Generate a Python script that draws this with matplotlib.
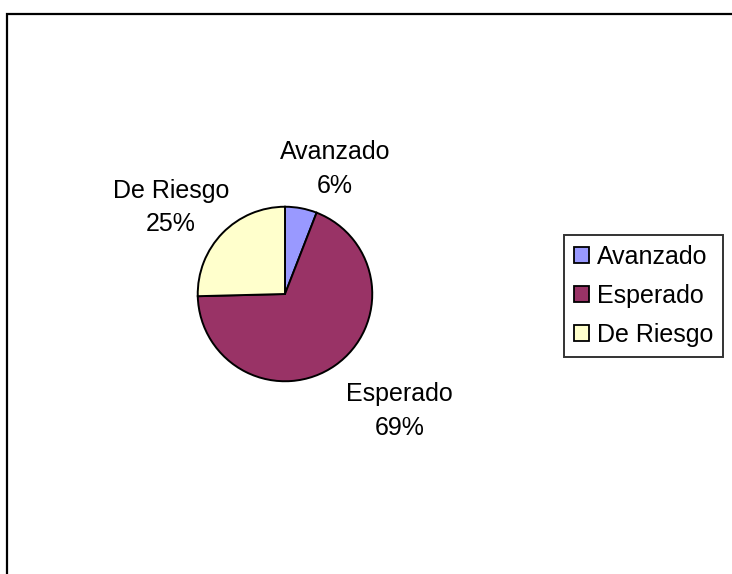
import matplotlib.pyplot as plt
from matplotlib.patches import Rectangle, Patch

categories = ["Avanzado", "Esperado", "De Riesgo"]
values = [5.9, 68.7, 25.4]
colors = ["#9999FF", "#993366", "#FFFFCC"]
# label anchor points in pie data units (radius = 1)
label_pos = [(0.57, 1.43), (1.31, -1.34), (-1.31, 0.99)]

W, H = 732, 574
fig = plt.figure(figsize=(W / 100, H / 100), dpi=100, facecolor="white")
plt.rcParams["font.family"] = ["Liberation Sans", "DejaVu Sans"]

# outer chart frame
fig.patches.append(Rectangle((7 / W, -0.1), 1.2, (574 - 14) / H + 0.1,
                             transform=fig.transFigure, fill=False,
                             edgecolor="black", linewidth=1.6))

cx, cy, r = 285, 294, 89
ax = fig.add_axes([(cx - r) / W, (H - cy - r) / H, 2 * r / W, 2 * r / H])
ax.pie(values, colors=colors, startangle=90, counterclock=False, radius=1,
       wedgeprops={"edgecolor": "black", "linewidth": 1.4})
ax.set_xlim(-1.02, 1.02)
ax.set_ylim(-1.02, 1.02)
ax.set_aspect("equal")
ax.axis("off")

total = sum(values)
for name, v, (lx, ly) in zip(categories, values, label_pos):
    ax.text(lx, ly, f"{name}\n{round(100 * v / total)}%", ha="center", va="center",
            fontsize=18, linespacing=1.5, clip_on=False)

handles = [Patch(facecolor=c, edgecolor="black", linewidth=1.3) for c in colors]
leg = fig.legend(handles, categories, loc="upper left",
                 bbox_to_anchor=(564 / W, 1 - 235 / H), fontsize=18,
                 frameon=True, fancybox=False, edgecolor="black",
                 handlelength=0.6, handleheight=0.6, handletextpad=0.32,
                 labelspacing=0.6, borderpad=0.4, borderaxespad=0)
leg.get_frame().set_linewidth(1.4)

fig.savefig("out.png", dpi=100, facecolor="white")
